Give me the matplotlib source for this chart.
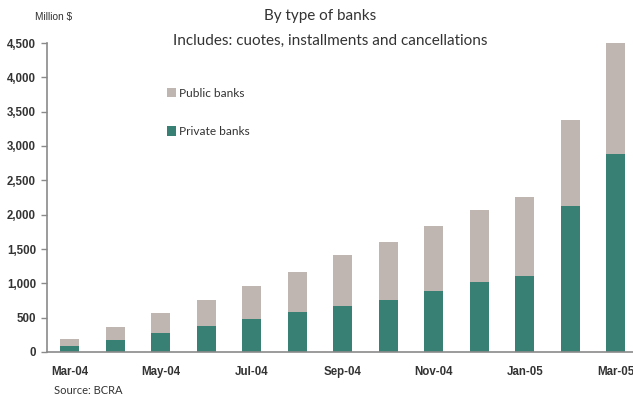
import matplotlib
matplotlib.use('Agg')
import matplotlib.pyplot as plt
from matplotlib.ticker import FuncFormatter

months = ['Mar-04', 'Apr-04', 'May-04', 'Jun-04', 'Jul-04', 'Aug-04', 'Sep-04',
          'Oct-04', 'Nov-04', 'Dec-04', 'Jan-05', 'Feb-05', 'Mar-05']
private = [87, 175, 277, 379, 480, 582, 670, 757, 888, 1019, 1107, 2126, 2883]
total   = [189, 364, 568, 757, 961, 1165, 1412, 1602, 1835, 2068, 2257, 3378, 4495]
public  = [t - p for t, p in zip(total, private)]

TEAL = '#387f74'
GREY = '#bfb5b1'
TXT = '#333333'
AX = '#8a8a8a'

fig = plt.figure(figsize=(6.33, 3.94), dpi=100)
ax = fig.add_axes([47/633, 42/394, 1 - 47/633, 309/394])

x = range(len(months))
ax.bar(x, private, width=0.42, color=TEAL, label='Private banks')
ax.bar(x, public, width=0.42, bottom=private, color=GREY, label='Public banks')

ax.set_xlim(-0.5, 12.38)
ax.set_ylim(0, 4500)
ax.set_yticks(range(0, 4501, 500))
ax.yaxis.set_major_formatter(FuncFormatter(lambda v, _: f'{int(v):,}'))
ax.set_xticks(list(x)[::2])
ax.set_xticklabels(months[::2])

for s in ['top', 'right']:
    ax.spines[s].set_visible(False)
for s in ['left', 'bottom']:
    ax.spines[s].set_color(AX)
    ax.spines[s].set_linewidth(1.2)
ax.tick_params(axis='y', length=4, color=AX, width=1, pad=4)
ax.tick_params(axis='x', length=0, pad=10)
for lab in ax.get_xticklabels() + ax.get_yticklabels():
    lab.set_fontfamily('Liberation Sans')
    lab.set_fontweight('bold')
    lab.set_fontsize(8.3)
    lab.set_color(TXT)

h, l = ax.get_legend_handles_labels()
leg = ax.legend(h[::-1], l[::-1], loc='upper left', bbox_to_anchor=(0.186, 0.89),
                frameon=False, handlelength=0.8, handleheight=0.8, handletextpad=0.2,
                labelspacing=2.3, prop={'family': 'Lato', 'size': 8.6})
for t in leg.get_texts():
    t.set_color(TXT)

fig.text(320/633, 1 - 16/394, 'By type of banks', ha='center', va='center',
         fontsize=11, family='Lato', color=TXT)
fig.text(330/633, 1 - 41/394, 'Includes: cuotes, installments and cancellations',
         ha='center', va='center', fontsize=11, family='Lato', color=TXT)
fig.text(54/633, 1 - 17/394, 'Million $', ha='center', va='center',
         fontsize=7.3, family='Liberation Sans', color=TXT)
fig.text(54/633, 1 - 390/394, 'Source: BCRA', ha='left', va='center',
         fontsize=8, family='Lato', color=TXT)

fig.savefig('out.png', dpi=100)
